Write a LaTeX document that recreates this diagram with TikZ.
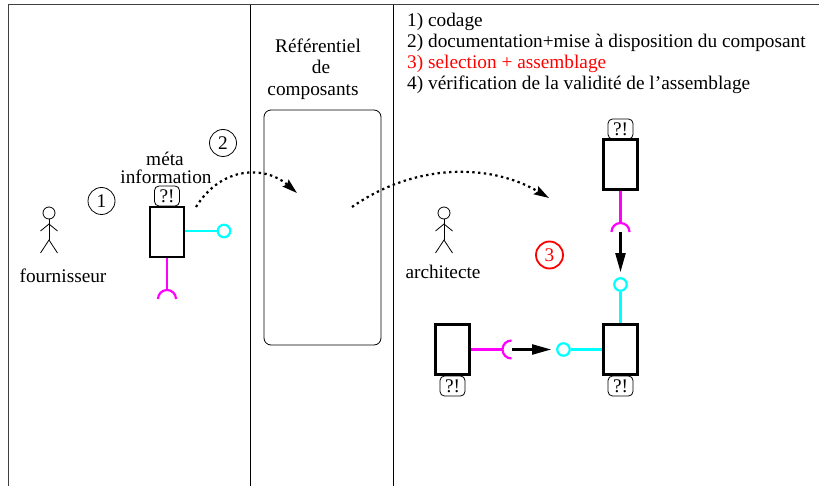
\documentclass[tikz,border=0pt]{standalone}
\usepackage{fontspec}
\setmainfont{Liberation Serif}
\usetikzlibrary{arrows.meta}
\definecolor{provcol}{RGB}{0,255,255}
\definecolor{reqcol}{RGB}{255,0,255}
\definecolor{stepred}{RGB}{255,0,0}
\tikzset{
	txt/.style={inner sep=0pt, font=\fontsize{19.3}{22}\selectfont},
	comp/.style={draw, line width=2.4pt, minimum width=34pt, minimum height=50pt, inner sep=0pt},
	tag/.style={draw, rounded corners=4.5pt, line width=0.8pt, minimum width=25pt, minimum height=20pt, inner sep=0pt, font=\fontsize{19.3}{22}\selectfont},
	num/.style={draw, circle, line width=0.8pt, minimum size=27pt, inner sep=0pt, font=\fontsize{19.3}{22}\selectfont},
	lolli/.style={draw=provcol, circle, line width=2.2pt, minimum size=12.5pt, inner sep=0pt},
	prov/.style={provcol, line width=2.2pt},
	req/.style={reqcol, line width=2.2pt},
	bind/.style={line width=2.2pt, shorten >=5pt, -{Stealth[length=19pt,width=10pt,inset=0pt]}},
	flow/.style={line width=2.2pt, dash pattern=on 2.4pt off 3.4pt, -{Stealth[length=15pt,width=9pt,inset=2pt]}},
	man/.style={line width=0.8pt}
}
\newcommand{\stickman}[2]{
	\draw[man] (#1,#2) circle (6pt);
	\draw[man] (#1,#2+6)--(#1,#2+27);
	\draw[man] (#1-8.5,#2+18)--(#1,#2+11)--(#1+8.5,#2+18);
	\draw[man] (#1-8.5,#2+40)--(#1,#2+27)--(#1+8.5,#2+40);
}
\begin{document}
\begin{tikzpicture}[x=1pt,y=-1pt]
	\useasboundingbox (0,0) rectangle (819,486);
	\coordinate (topleft) at (8,5);
	\coordinate (topright) at (819,5);
	\coordinate (botleft) at (8,486);
	\draw[line width=1pt, black!75] (botleft)--(topleft)--(topright);
	\draw[line width=1pt] (250.5,5)--(250.5,486);
	\draw[line width=1pt] (393.5,5)--(393.5,486);

	\stickman{49}{213}
	\stickman{444}{213}
	\node[txt] (fournisseur) at (63,276) {fournisseur};
	\node[txt] (architecte) at (443,272) {architecte};
	\node[txt] (meta) at (165,158.5) {méta};
	\node[txt] (information) at (166,176.5) {information};
	\node[txt] (ref) at (318,46) {Référentiel};
	\node[txt] (de) at (321,67) {de};
	\node[txt] (composants) at (313,92) {composants};
	\node[draw, rounded corners=7pt, line width=0.8pt, minimum width=117pt, minimum height=235pt] (depot) at (322.5,227.5) {};

	\node[txt, anchor=west] (step1) at (407,22) {1) codage};
	\node[txt, anchor=west] (step2) at (407,43) {2) documentation+mise à disposition du composant};
	\node[txt, anchor=west, stepred] (step3) at (407,64) {3) selection + assemblage};
	\node[txt, anchor=west] (step4) at (407,85) {4) vérification de la validité de l’assemblage};

	\node[num] (n1) at (101.5,201) {1};
	\node[num] (n2) at (223,143) {2};
	\node[num, stepred, line width=1.8pt] (n3) at (549.5,255) {3};

	\node[comp] (comp1) at (167,232) {};
	\node[tag] (tag1) at (167,196) {?!};
	\node[lolli] (lolli1) at (224,231) {};
	\coordinate (sock1) at (167,290);
	\draw[prov] (comp1.east|-lolli1)--(lolli1);
	\draw[req] (comp1.south)--(sock1);
	\draw[req] (sock1)++(-9,9) arc[start angle=180, end angle=0, radius=9pt];

	\node[comp] (comp2) at (620.5,164.5) {};
	\node[tag] (tag2) at (620.5,129) {?!};
	\coordinate (sock2) at (620.5,223);
	\node[lolli] (lolli2) at (620.5,284.5) {};
	\draw[req] (comp2.south)--(sock2);
	\draw[req] (sock2)++(-9,9) arc[start angle=180, end angle=0, radius=9pt];

	\node[comp] (comp3) at (620.5,349.5) {};
	\node[tag] (tag3) at (620.5,386) {?!};
	\draw[prov] (lolli2)--(comp3.north);

	\node[comp] (comp4) at (452.5,349.5) {};
	\node[tag] (tag4) at (452.5,386) {?!};
	\coordinate (sock4) at (502.5,349.5);
	\node[lolli] (lolli4) at (563.5,349.5) {};
	\draw[req] (comp4.east)--(sock4);
	\draw[req] (sock4)++(9,-9) arc[start angle=90, end angle=270, radius=9pt];
	\draw[prov] (lolli4)--(comp3.west);

	\coordinate (arrow2) at (620.5,232);
	\coordinate (arrow4) at (512,349.5);
	\draw[bind] (arrow2)--(lolli2.north);
	\draw[bind] (arrow4)--(lolli4.west);

	\coordinate (from1) at (196,207);
	\coordinate (to1) at (297,193);
	\coordinate (from2) at (352,207);
	\coordinate (to2) at (549,198);
	\draw[flow] (from1) .. controls (222,165) and (266,166) .. (to1);
	\draw[flow] (from2) .. controls (415,163) and (490,163) .. (to2);
\end{tikzpicture}
\end{document}
